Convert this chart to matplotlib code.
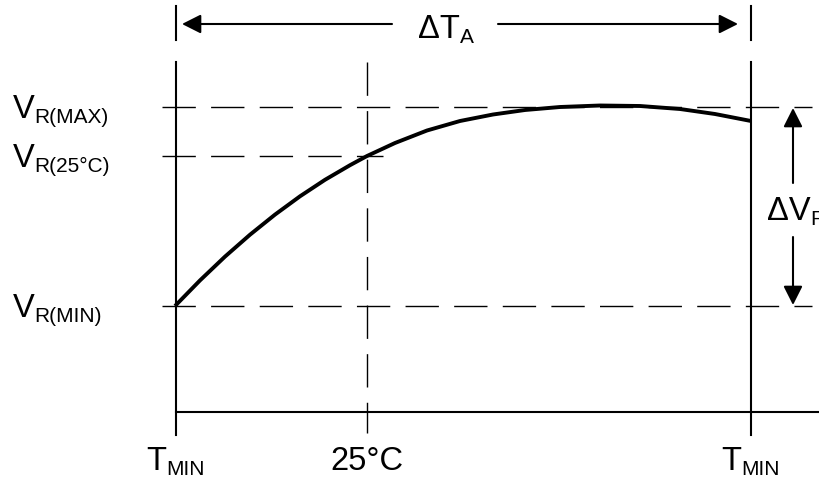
import matplotlib
matplotlib.use("Agg")
import matplotlib.pyplot as plt

plt.rcParams['font.family'] = ['Liberation Sans', 'DejaVu Sans']

# ---- data (diagram units: x = temperature axis, y = voltage axis, y grows downward) ----
t_min, t_25, t_max = 176, 367, 751
vr_max, vr_25, vr_min = 107, 156, 306
curve_t = [175, 200, 225, 250, 275, 300, 325, 350, 367, 395, 427, 460, 493, 525,
           560, 600, 640, 680, 715, 751]
curve_v = [306, 280.4, 256.6, 234.7, 214.6, 196.3, 179.8, 165.2, 156, 143, 130.5,
           121, 114.5, 110, 107, 105.5, 106, 109, 114, 121]
x_labels = [('T', 'MIN'), ('25°C', ''), ('T', 'MIN')]
y_labels = [('V', 'R(MAX)'), ('V', 'R(25°C)'), ('V', 'R(MIN)')]

fig = plt.figure(figsize=(8.2, 4.8), dpi=100)
ax = fig.add_axes([0, 0, 1, 1])
ax.set_xlim(0, 820)
ax.set_ylim(480, 0)
ax.axis('off')
renderer = fig.canvas.get_renderer()

k = 'black'
dash = (0, (24, 11))
dlw = 1.0

# solid verticals and baseline
ax.plot([t_min, t_min], [62, 435], color=k, lw=1.5)
ax.plot([t_max, t_max], [62, 435], color=k, lw=1.5)
ax.plot([t_min, t_min], [6, 40], color=k, lw=1.5)
ax.plot([t_max, t_max], [6, 40], color=k, lw=1.5)
ax.plot([t_min, 820], [412, 412], color=k, lw=1.5)

# dashed lines
ax.plot([t_25, t_25], [62, 433], color=k, lw=dlw, linestyle=dash)
ax.plot([162, 812], [vr_max, vr_max], color=k, lw=dlw, linestyle=dash)
ax.plot([162, 383], [vr_25, vr_25], color=k, lw=dlw, linestyle=dash)
ax.plot([162, 812], [vr_min, vr_min], color=k, lw=dlw, linestyle=dash)

# curve
ax.plot(curve_t, curve_v, color=k, lw=2.8, solid_capstyle='butt', solid_joinstyle='round')

# arrows
ap = dict(arrowstyle='-|>,head_length=11.5,head_width=5.8', color=k, lw=1.5,
          shrinkA=0, shrinkB=0, mutation_scale=1)
ax.annotate('', xy=(t_min + 6, 24), xytext=(392, 24), arrowprops=ap)
ax.annotate('', xy=(t_max - 13, 24), xytext=(498, 24), arrowprops=ap)
ax.annotate('', xy=(793, vr_max + 1), xytext=(793, 183), arrowprops=ap)
ax.annotate('', xy=(793, vr_min - 1), xytext=(793, 237), arrowprops=ap)

FS_MAIN = 23.5
FS_SUB = 15
DROP = 5


def label(x, y, main, sub, ha='left'):
    """Draw main text with a smaller, dropped subscript; x,y in pixel-like data units."""
    t1 = ax.text(0, y, main, fontsize=FS_MAIN, ha='left', va='baseline')
    w1 = t1.get_window_extent(renderer).width
    w2 = 0
    t2 = None
    if sub:
        t2 = ax.text(0, y + DROP, sub, fontsize=FS_SUB, ha='left', va='baseline')
        w2 = t2.get_window_extent(renderer).width
    total = w1 + w2
    x0 = x - total / 2 if ha == 'center' else x
    t1.set_x(x0)
    if t2 is not None:
        t2.set_x(x0 + w1)


label(446, 38, 'ΔT', 'A', ha='center')
label(767, 220, 'ΔV', 'R')

for xv, (m, s) in zip([t_min, t_25, t_max], x_labels):
    label(xv, 470, m, s, ha='center')
for yv, (m, s) in zip([vr_max, vr_25, vr_min], y_labels):
    label(13, yv + 11, m, s)

fig.savefig('out.png', dpi=100)
